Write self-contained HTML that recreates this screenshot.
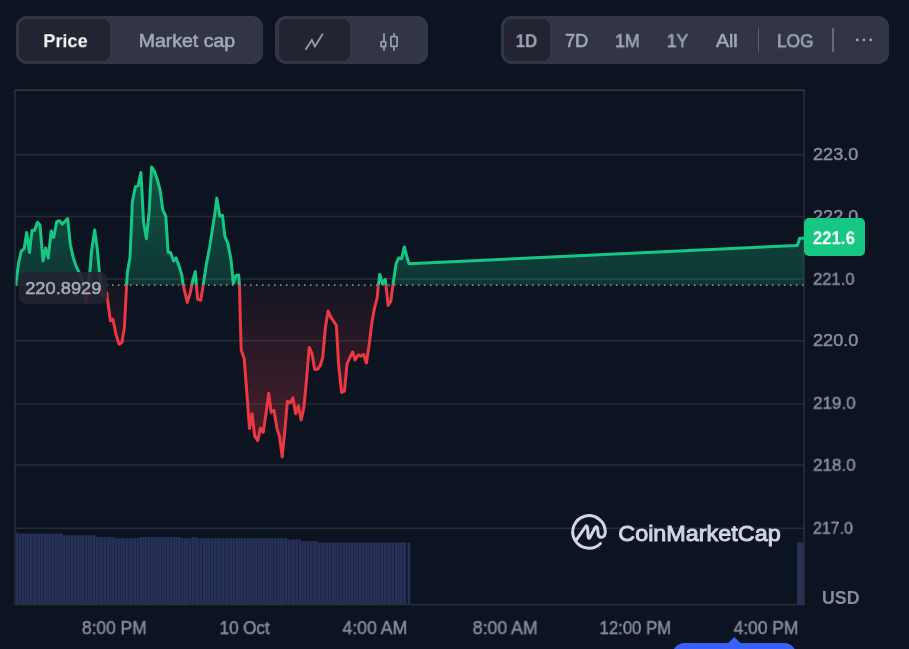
<!DOCTYPE html>
<html lang="en"><head><meta charset="utf-8"><title>Price chart</title>
<style>
html,body{margin:0;padding:0;background:#0d1421;}
body{width:909px;height:649px;overflow:hidden;position:relative;font-family:"Liberation Sans",sans-serif;}
#chart{position:absolute;left:0;top:0;}
.t{position:absolute;left:0;top:0;white-space:nowrap;margin:0;padding:0;transform-origin:0 0;will-change:transform;}
.grp{position:absolute;top:16px;height:48px;border-radius:10.7px;background:#323546;}
.act{position:absolute;top:19px;height:42px;border-radius:8px;background:#222531;}
.sep{position:absolute;top:28px;height:24px;width:1px;background:#5b5f73;}
.tag{position:absolute;border-radius:5px;}
</style></head><body>
<div class="grp" style="left:16px;width:247px"></div>
<div class="act" style="left:19.4px;width:91px"></div>
<div class="grp" style="left:275px;width:153px"></div>
<div class="act" style="left:278.6px;width:71.8px"></div>
<div class="grp" style="left:501px;width:388px"></div>
<div class="act" style="left:504.2px;width:45.4px"></div>
<div class="sep" style="left:758px"></div>
<div class="sep" style="left:832.2px;width:1.5px;background:#666a7e"></div>
<svg id="chart" width="909" height="649" viewBox="0 0 909 649">
<defs>
<linearGradient id="gg" x1="0" y1="90.1" x2="0" y2="285.0" gradientUnits="userSpaceOnUse">
<stop offset="0" stop-color="#16c784" stop-opacity="0.46"/><stop offset="1" stop-color="#16c784" stop-opacity="0.19"/></linearGradient>
<linearGradient id="rg" x1="0" y1="285.0" x2="0" y2="604.6" gradientUnits="userSpaceOnUse">
<stop offset="0" stop-color="#ea3943" stop-opacity="0.035"/><stop offset="1" stop-color="#ea3943" stop-opacity="0.52"/></linearGradient>
<clipPath id="up"><rect x="15.6" y="0" width="788.4" height="285.0"/></clipPath>
<clipPath id="dn"><rect x="15.6" y="285.0" width="788.4" height="400"/></clipPath>
</defs>
<g stroke="#272b38" stroke-width="1.5">
<line x1="15" x2="804" y1="154.7" y2="154.7"/><line x1="15" x2="804" y1="216.4" y2="216.4"/><line x1="15" x2="804" y1="279.1" y2="279.1"/><line x1="15" x2="804" y1="340.7" y2="340.7"/><line x1="15" x2="804" y1="404.0" y2="404.0"/><line x1="15" x2="804" y1="465.1" y2="465.1"/><line x1="15" x2="804" y1="528.3" y2="528.3"/>
</g>
<line x1="14.6" x2="804.6" y1="90.1" y2="90.1" stroke="#41444f" stroke-width="1.2"/>
<g fill="#273056"><rect x="16.00" y="533.6" width="2.6" height="70.6"/><rect x="18.74" y="533.6" width="2.6" height="70.6"/><rect x="21.49" y="533.6" width="2.6" height="70.6"/><rect x="24.23" y="533.6" width="2.6" height="70.6"/><rect x="26.97" y="533.6" width="2.6" height="70.6"/><rect x="29.71" y="533.6" width="2.6" height="70.6"/><rect x="32.46" y="533.6" width="2.6" height="70.6"/><rect x="35.20" y="533.6" width="2.6" height="70.6"/><rect x="37.94" y="533.6" width="2.6" height="70.6"/><rect x="40.69" y="533.6" width="2.6" height="70.6"/><rect x="43.43" y="533.6" width="2.6" height="70.6"/><rect x="46.17" y="533.6" width="2.6" height="70.6"/><rect x="48.92" y="533.6" width="2.6" height="70.6"/><rect x="51.66" y="533.6" width="2.6" height="70.6"/><rect x="54.40" y="533.6" width="2.6" height="70.6"/><rect x="57.15" y="533.6" width="2.6" height="70.6"/><rect x="59.89" y="533.6" width="2.6" height="70.6"/><rect x="62.63" y="535.3" width="2.6" height="68.9"/><rect x="65.37" y="535.3" width="2.6" height="68.9"/><rect x="68.12" y="535.3" width="2.6" height="68.9"/><rect x="70.86" y="535.3" width="2.6" height="68.9"/><rect x="73.60" y="535.3" width="2.6" height="68.9"/><rect x="76.35" y="535.3" width="2.6" height="68.9"/><rect x="79.09" y="535.3" width="2.6" height="68.9"/><rect x="81.83" y="535.3" width="2.6" height="68.9"/><rect x="84.57" y="535.3" width="2.6" height="68.9"/><rect x="87.32" y="535.3" width="2.6" height="68.9"/><rect x="90.06" y="535.3" width="2.6" height="68.9"/><rect x="92.80" y="535.3" width="2.6" height="68.9"/><rect x="95.55" y="536.9" width="2.6" height="67.3"/><rect x="98.29" y="536.9" width="2.6" height="67.3"/><rect x="101.03" y="536.9" width="2.6" height="67.3"/><rect x="103.78" y="536.9" width="2.6" height="67.3"/><rect x="106.52" y="536.9" width="2.6" height="67.3"/><rect x="109.26" y="536.9" width="2.6" height="67.3"/><rect x="112.00" y="536.9" width="2.6" height="67.3"/><rect x="114.75" y="538.2" width="2.6" height="66.0"/><rect x="117.49" y="538.2" width="2.6" height="66.0"/><rect x="120.23" y="538.2" width="2.6" height="66.0"/><rect x="122.98" y="538.2" width="2.6" height="66.0"/><rect x="125.72" y="538.2" width="2.6" height="66.0"/><rect x="128.46" y="538.2" width="2.6" height="66.0"/><rect x="131.21" y="538.2" width="2.6" height="66.0"/><rect x="133.95" y="538.2" width="2.6" height="66.0"/><rect x="136.69" y="538.2" width="2.6" height="66.0"/><rect x="139.43" y="536.9" width="2.6" height="67.3"/><rect x="142.18" y="536.9" width="2.6" height="67.3"/><rect x="144.92" y="536.9" width="2.6" height="67.3"/><rect x="147.66" y="536.9" width="2.6" height="67.3"/><rect x="150.41" y="536.9" width="2.6" height="67.3"/><rect x="153.15" y="536.9" width="2.6" height="67.3"/><rect x="155.89" y="536.9" width="2.6" height="67.3"/><rect x="158.64" y="536.9" width="2.6" height="67.3"/><rect x="161.38" y="536.9" width="2.6" height="67.3"/><rect x="164.12" y="536.9" width="2.6" height="67.3"/><rect x="166.86" y="536.9" width="2.6" height="67.3"/><rect x="169.61" y="536.9" width="2.6" height="67.3"/><rect x="172.35" y="536.9" width="2.6" height="67.3"/><rect x="175.09" y="536.9" width="2.6" height="67.3"/><rect x="177.84" y="536.9" width="2.6" height="67.3"/><rect x="180.58" y="538.2" width="2.6" height="66.0"/><rect x="183.32" y="538.2" width="2.6" height="66.0"/><rect x="186.07" y="538.2" width="2.6" height="66.0"/><rect x="188.81" y="538.2" width="2.6" height="66.0"/><rect x="191.55" y="536.9" width="2.6" height="67.3"/><rect x="194.29" y="536.9" width="2.6" height="67.3"/><rect x="197.04" y="538.3" width="2.6" height="65.9"/><rect x="199.78" y="538.3" width="2.6" height="65.9"/><rect x="202.52" y="538.3" width="2.6" height="65.9"/><rect x="205.27" y="538.3" width="2.6" height="65.9"/><rect x="208.01" y="538.3" width="2.6" height="65.9"/><rect x="210.75" y="538.3" width="2.6" height="65.9"/><rect x="213.50" y="538.3" width="2.6" height="65.9"/><rect x="216.24" y="538.3" width="2.6" height="65.9"/><rect x="218.98" y="538.3" width="2.6" height="65.9"/><rect x="221.72" y="538.3" width="2.6" height="65.9"/><rect x="224.47" y="538.3" width="2.6" height="65.9"/><rect x="227.21" y="538.3" width="2.6" height="65.9"/><rect x="229.95" y="538.3" width="2.6" height="65.9"/><rect x="232.70" y="538.3" width="2.6" height="65.9"/><rect x="235.44" y="538.3" width="2.6" height="65.9"/><rect x="238.18" y="538.3" width="2.6" height="65.9"/><rect x="240.93" y="538.3" width="2.6" height="65.9"/><rect x="243.67" y="538.3" width="2.6" height="65.9"/><rect x="246.41" y="538.3" width="2.6" height="65.9"/><rect x="249.15" y="538.3" width="2.6" height="65.9"/><rect x="251.90" y="538.3" width="2.6" height="65.9"/><rect x="254.64" y="538.3" width="2.6" height="65.9"/><rect x="257.38" y="538.3" width="2.6" height="65.9"/><rect x="260.13" y="538.3" width="2.6" height="65.9"/><rect x="262.87" y="538.3" width="2.6" height="65.9"/><rect x="265.61" y="538.3" width="2.6" height="65.9"/><rect x="268.36" y="538.3" width="2.6" height="65.9"/><rect x="271.10" y="538.3" width="2.6" height="65.9"/><rect x="273.84" y="538.3" width="2.6" height="65.9"/><rect x="276.58" y="538.3" width="2.6" height="65.9"/><rect x="279.33" y="538.3" width="2.6" height="65.9"/><rect x="282.07" y="538.3" width="2.6" height="65.9"/><rect x="284.81" y="538.3" width="2.6" height="65.9"/><rect x="287.56" y="539.6" width="2.6" height="64.6"/><rect x="290.30" y="539.6" width="2.6" height="64.6"/><rect x="293.04" y="539.6" width="2.6" height="64.6"/><rect x="295.79" y="539.6" width="2.6" height="64.6"/><rect x="298.53" y="539.6" width="2.6" height="64.6"/><rect x="301.27" y="541.1" width="2.6" height="63.1"/><rect x="304.01" y="541.1" width="2.6" height="63.1"/><rect x="306.76" y="541.1" width="2.6" height="63.1"/><rect x="309.50" y="541.1" width="2.6" height="63.1"/><rect x="312.24" y="541.1" width="2.6" height="63.1"/><rect x="314.99" y="541.1" width="2.6" height="63.1"/><rect x="317.73" y="542.6" width="2.6" height="61.6"/><rect x="320.47" y="542.6" width="2.6" height="61.6"/><rect x="323.22" y="542.6" width="2.6" height="61.6"/><rect x="325.96" y="542.6" width="2.6" height="61.6"/><rect x="328.70" y="542.6" width="2.6" height="61.6"/><rect x="331.44" y="542.6" width="2.6" height="61.6"/><rect x="334.19" y="542.6" width="2.6" height="61.6"/><rect x="336.93" y="542.6" width="2.6" height="61.6"/><rect x="339.67" y="542.6" width="2.6" height="61.6"/><rect x="342.42" y="542.6" width="2.6" height="61.6"/><rect x="345.16" y="542.6" width="2.6" height="61.6"/><rect x="347.90" y="542.6" width="2.6" height="61.6"/><rect x="350.65" y="542.6" width="2.6" height="61.6"/><rect x="353.39" y="542.6" width="2.6" height="61.6"/><rect x="356.13" y="542.6" width="2.6" height="61.6"/><rect x="358.87" y="542.6" width="2.6" height="61.6"/><rect x="361.62" y="542.6" width="2.6" height="61.6"/><rect x="364.36" y="542.6" width="2.6" height="61.6"/><rect x="367.10" y="542.6" width="2.6" height="61.6"/><rect x="369.85" y="542.6" width="2.6" height="61.6"/><rect x="372.59" y="542.6" width="2.6" height="61.6"/><rect x="375.33" y="542.6" width="2.6" height="61.6"/><rect x="378.08" y="542.6" width="2.6" height="61.6"/><rect x="380.82" y="542.6" width="2.6" height="61.6"/><rect x="383.56" y="542.6" width="2.6" height="61.6"/><rect x="386.30" y="542.6" width="2.6" height="61.6"/><rect x="389.05" y="542.6" width="2.6" height="61.6"/><rect x="391.79" y="542.6" width="2.6" height="61.6"/><rect x="394.53" y="542.6" width="2.6" height="61.6"/><rect x="397.28" y="542.6" width="2.6" height="61.6"/><rect x="400.02" y="542.6" width="2.6" height="61.6"/><rect x="402.76" y="542.6" width="2.6" height="61.6"/><rect x="16" y="532.2" width="1.0" height="2"/><rect x="403.6" y="542.5" width="2.5" height="61.7"/><rect x="407.5" y="542.5" width="2.7" height="61.7"/><rect x="797" y="542.5" width="6.8" height="61.7"/></g>
<g stroke="#2b2f3c" stroke-width="1.5">
<line x1="15" x2="804.6" y1="604.6" y2="604.6"/>
<line x1="15.1" x2="15.1" y1="90" y2="605"/>
<line x1="804.1" x2="804.1" y1="90" y2="605"/>
</g>
<g clip-path="url(#up)"><path d="M15.3,285.0 L15.3,285.5 L16.2,281.1 L18.7,262.4 L21.2,251.1 L24.2,248.6 L26.7,232.4 L29.5,252.4 L32.0,230.4 L34.5,230.4 L37.5,222.4 L40.0,225.0 L43.0,261.0 L45.7,248.0 L48.2,258.0 L51.2,231.0 L53.7,237.4 L56.7,221.7 L59.5,220.7 L62.0,224.2 L64.8,221.5 L67.7,218.7 L70.4,245.0 L73.2,257.4 L76.2,266.6 L78.7,271.6 L81.4,277.0 L83.6,290.0 L86.2,302.5 L88.2,288.0 L90.0,270.0 L91.7,250.0 L94.7,230.0 L97.4,250.0 L99.4,272.4 L100.6,285.0 L102.6,296.0 L104.6,297.0 L106.7,292.5 L107.4,298.7 L110.4,320.7 L112.9,319.2 L116.1,334.9 L119.1,344.2 L121.9,342.4 L124.4,327.4 L126.6,285.0 L127.4,272.4 L130.0,257.4 L132.4,201.2 L135.4,186.7 L138.1,185.7 L140.9,172.5 L143.6,222.4 L146.4,238.7 L149.1,212.4 L151.6,167.0 L154.4,171.2 L157.4,180.0 L160.1,190.0 L162.8,210.0 L165.8,216.2 L168.1,252.4 L170.6,252.4 L173.6,261.1 L176.1,257.9 L179.1,266.1 L181.8,274.9 L183.1,284.9 L187.3,302.3 L190.3,292.4 L192.3,282.4 L195.3,271.6 L197.6,299.4 L200.8,300.3 L203.6,282.4 L206.3,264.9 L209.8,246.2 L212.3,229.9 L214.8,213.7 L216.8,198.2 L219.8,216.2 L222.5,215.4 L224.8,236.2 L228.0,243.7 L231.0,259.9 L233.3,283.2 L236.0,275.4 L238.7,275.0 L239.5,286.2 L240.3,320.0 L241.2,350.0 L244.2,358.7 L247.0,394.9 L249.5,428.6 L252.0,413.7 L254.7,436.1 L257.7,440.6 L260.5,428.1 L263.2,432.4 L266.0,413.7 L268.7,393.2 L271.2,412.4 L274.0,410.4 L277.0,428.6 L279.4,436.1 L282.2,456.9 L284.9,429.9 L287.4,401.2 L290.2,402.9 L292.9,397.9 L295.7,413.7 L298.4,405.7 L301.2,419.9 L303.9,407.4 L306.7,377.4 L309.2,347.5 L311.9,353.2 L314.7,369.2 L317.4,369.2 L320.2,365.7 L322.7,357.5 L325.4,327.5 L328.1,311.1 L330.9,317.4 L333.6,321.2 L336.4,325.5 L338.6,365.0 L341.6,392.4 L344.4,391.2 L347.1,363.7 L349.9,357.5 L352.6,352.0 L355.1,360.0 L358.1,355.0 L360.9,356.2 L363.6,354.5 L366.4,363.0 L369.1,345.0 L371.9,322.5 L374.4,308.6 L377.3,297.4 L378.3,284.9 L379.8,274.4 L382.6,283.7 L385.3,279.4 L386.1,286.2 L388.1,305.4 L390.8,301.1 L392.8,286.2 L393.6,279.9 L396.1,263.7 L398.8,257.9 L401.6,258.7 L404.3,247.0 L408.8,263.7 L796.5,245.5 L797.5,245.1 L799.7,238.3 L804.5,238.3 L804.5,285.0 Z" fill="url(#gg)"/></g>
<g clip-path="url(#dn)"><path d="M15.3,285.0 L15.3,285.5 L16.2,281.1 L18.7,262.4 L21.2,251.1 L24.2,248.6 L26.7,232.4 L29.5,252.4 L32.0,230.4 L34.5,230.4 L37.5,222.4 L40.0,225.0 L43.0,261.0 L45.7,248.0 L48.2,258.0 L51.2,231.0 L53.7,237.4 L56.7,221.7 L59.5,220.7 L62.0,224.2 L64.8,221.5 L67.7,218.7 L70.4,245.0 L73.2,257.4 L76.2,266.6 L78.7,271.6 L81.4,277.0 L83.6,290.0 L86.2,302.5 L88.2,288.0 L90.0,270.0 L91.7,250.0 L94.7,230.0 L97.4,250.0 L99.4,272.4 L100.6,285.0 L102.6,296.0 L104.6,297.0 L106.7,292.5 L107.4,298.7 L110.4,320.7 L112.9,319.2 L116.1,334.9 L119.1,344.2 L121.9,342.4 L124.4,327.4 L126.6,285.0 L127.4,272.4 L130.0,257.4 L132.4,201.2 L135.4,186.7 L138.1,185.7 L140.9,172.5 L143.6,222.4 L146.4,238.7 L149.1,212.4 L151.6,167.0 L154.4,171.2 L157.4,180.0 L160.1,190.0 L162.8,210.0 L165.8,216.2 L168.1,252.4 L170.6,252.4 L173.6,261.1 L176.1,257.9 L179.1,266.1 L181.8,274.9 L183.1,284.9 L187.3,302.3 L190.3,292.4 L192.3,282.4 L195.3,271.6 L197.6,299.4 L200.8,300.3 L203.6,282.4 L206.3,264.9 L209.8,246.2 L212.3,229.9 L214.8,213.7 L216.8,198.2 L219.8,216.2 L222.5,215.4 L224.8,236.2 L228.0,243.7 L231.0,259.9 L233.3,283.2 L236.0,275.4 L238.7,275.0 L239.5,286.2 L240.3,320.0 L241.2,350.0 L244.2,358.7 L247.0,394.9 L249.5,428.6 L252.0,413.7 L254.7,436.1 L257.7,440.6 L260.5,428.1 L263.2,432.4 L266.0,413.7 L268.7,393.2 L271.2,412.4 L274.0,410.4 L277.0,428.6 L279.4,436.1 L282.2,456.9 L284.9,429.9 L287.4,401.2 L290.2,402.9 L292.9,397.9 L295.7,413.7 L298.4,405.7 L301.2,419.9 L303.9,407.4 L306.7,377.4 L309.2,347.5 L311.9,353.2 L314.7,369.2 L317.4,369.2 L320.2,365.7 L322.7,357.5 L325.4,327.5 L328.1,311.1 L330.9,317.4 L333.6,321.2 L336.4,325.5 L338.6,365.0 L341.6,392.4 L344.4,391.2 L347.1,363.7 L349.9,357.5 L352.6,352.0 L355.1,360.0 L358.1,355.0 L360.9,356.2 L363.6,354.5 L366.4,363.0 L369.1,345.0 L371.9,322.5 L374.4,308.6 L377.3,297.4 L378.3,284.9 L379.8,274.4 L382.6,283.7 L385.3,279.4 L386.1,286.2 L388.1,305.4 L390.8,301.1 L392.8,286.2 L393.6,279.9 L396.1,263.7 L398.8,257.9 L401.6,258.7 L404.3,247.0 L408.8,263.7 L796.5,245.5 L797.5,245.1 L799.7,238.3 L804.5,238.3 L804.5,285.0 Z" fill="url(#rg)"/></g>
<line x1="16" x2="804" y1="285.2" y2="285.2" stroke="#b3b6be" stroke-width="1.3" stroke-dasharray="1.5 4.5"/>
<g fill="none" stroke-width="3" stroke-linejoin="round" stroke-linecap="butt">
<polyline clip-path="url(#up)" points="15.3,285.5 16.2,281.1 18.7,262.4 21.2,251.1 24.2,248.6 26.7,232.4 29.5,252.4 32.0,230.4 34.5,230.4 37.5,222.4 40.0,225.0 43.0,261.0 45.7,248.0 48.2,258.0 51.2,231.0 53.7,237.4 56.7,221.7 59.5,220.7 62.0,224.2 64.8,221.5 67.7,218.7 70.4,245.0 73.2,257.4 76.2,266.6 78.7,271.6 81.4,277.0 83.6,290.0 86.2,302.5 88.2,288.0 90.0,270.0 91.7,250.0 94.7,230.0 97.4,250.0 99.4,272.4 100.6,285.0 102.6,296.0 104.6,297.0 106.7,292.5 107.4,298.7 110.4,320.7 112.9,319.2 116.1,334.9 119.1,344.2 121.9,342.4 124.4,327.4 126.6,285.0 127.4,272.4 130.0,257.4 132.4,201.2 135.4,186.7 138.1,185.7 140.9,172.5 143.6,222.4 146.4,238.7 149.1,212.4 151.6,167.0 154.4,171.2 157.4,180.0 160.1,190.0 162.8,210.0 165.8,216.2 168.1,252.4 170.6,252.4 173.6,261.1 176.1,257.9 179.1,266.1 181.8,274.9 183.1,284.9 187.3,302.3 190.3,292.4 192.3,282.4 195.3,271.6 197.6,299.4 200.8,300.3 203.6,282.4 206.3,264.9 209.8,246.2 212.3,229.9 214.8,213.7 216.8,198.2 219.8,216.2 222.5,215.4 224.8,236.2 228.0,243.7 231.0,259.9 233.3,283.2 236.0,275.4 238.7,275.0 239.5,286.2 240.3,320.0 241.2,350.0 244.2,358.7 247.0,394.9 249.5,428.6 252.0,413.7 254.7,436.1 257.7,440.6 260.5,428.1 263.2,432.4 266.0,413.7 268.7,393.2 271.2,412.4 274.0,410.4 277.0,428.6 279.4,436.1 282.2,456.9 284.9,429.9 287.4,401.2 290.2,402.9 292.9,397.9 295.7,413.7 298.4,405.7 301.2,419.9 303.9,407.4 306.7,377.4 309.2,347.5 311.9,353.2 314.7,369.2 317.4,369.2 320.2,365.7 322.7,357.5 325.4,327.5 328.1,311.1 330.9,317.4 333.6,321.2 336.4,325.5 338.6,365.0 341.6,392.4 344.4,391.2 347.1,363.7 349.9,357.5 352.6,352.0 355.1,360.0 358.1,355.0 360.9,356.2 363.6,354.5 366.4,363.0 369.1,345.0 371.9,322.5 374.4,308.6 377.3,297.4 378.3,284.9 379.8,274.4 382.6,283.7 385.3,279.4 386.1,286.2 388.1,305.4 390.8,301.1 392.8,286.2 393.6,279.9 396.1,263.7 398.8,257.9 401.6,258.7 404.3,247.0 408.8,263.7 796.5,245.5 797.5,245.1 799.7,238.3 804.5,238.3" stroke="#16c784"/>
<polyline clip-path="url(#dn)" points="15.3,285.5 16.2,281.1 18.7,262.4 21.2,251.1 24.2,248.6 26.7,232.4 29.5,252.4 32.0,230.4 34.5,230.4 37.5,222.4 40.0,225.0 43.0,261.0 45.7,248.0 48.2,258.0 51.2,231.0 53.7,237.4 56.7,221.7 59.5,220.7 62.0,224.2 64.8,221.5 67.7,218.7 70.4,245.0 73.2,257.4 76.2,266.6 78.7,271.6 81.4,277.0 83.6,290.0 86.2,302.5 88.2,288.0 90.0,270.0 91.7,250.0 94.7,230.0 97.4,250.0 99.4,272.4 100.6,285.0 102.6,296.0 104.6,297.0 106.7,292.5 107.4,298.7 110.4,320.7 112.9,319.2 116.1,334.9 119.1,344.2 121.9,342.4 124.4,327.4 126.6,285.0 127.4,272.4 130.0,257.4 132.4,201.2 135.4,186.7 138.1,185.7 140.9,172.5 143.6,222.4 146.4,238.7 149.1,212.4 151.6,167.0 154.4,171.2 157.4,180.0 160.1,190.0 162.8,210.0 165.8,216.2 168.1,252.4 170.6,252.4 173.6,261.1 176.1,257.9 179.1,266.1 181.8,274.9 183.1,284.9 187.3,302.3 190.3,292.4 192.3,282.4 195.3,271.6 197.6,299.4 200.8,300.3 203.6,282.4 206.3,264.9 209.8,246.2 212.3,229.9 214.8,213.7 216.8,198.2 219.8,216.2 222.5,215.4 224.8,236.2 228.0,243.7 231.0,259.9 233.3,283.2 236.0,275.4 238.7,275.0 239.5,286.2 240.3,320.0 241.2,350.0 244.2,358.7 247.0,394.9 249.5,428.6 252.0,413.7 254.7,436.1 257.7,440.6 260.5,428.1 263.2,432.4 266.0,413.7 268.7,393.2 271.2,412.4 274.0,410.4 277.0,428.6 279.4,436.1 282.2,456.9 284.9,429.9 287.4,401.2 290.2,402.9 292.9,397.9 295.7,413.7 298.4,405.7 301.2,419.9 303.9,407.4 306.7,377.4 309.2,347.5 311.9,353.2 314.7,369.2 317.4,369.2 320.2,365.7 322.7,357.5 325.4,327.5 328.1,311.1 330.9,317.4 333.6,321.2 336.4,325.5 338.6,365.0 341.6,392.4 344.4,391.2 347.1,363.7 349.9,357.5 352.6,352.0 355.1,360.0 358.1,355.0 360.9,356.2 363.6,354.5 366.4,363.0 369.1,345.0 371.9,322.5 374.4,308.6 377.3,297.4 378.3,284.9 379.8,274.4 382.6,283.7 385.3,279.4 386.1,286.2 388.1,305.4 390.8,301.1 392.8,286.2 393.6,279.9 396.1,263.7 398.8,257.9 401.6,258.7 404.3,247.0 408.8,263.7 796.5,245.5 797.5,245.1 799.7,238.3 804.5,238.3" stroke="#ea3943"/>
</g>
<!-- watermark logo -->
<g fill="none" stroke="#cfd6e4" stroke-width="3.0" stroke-linecap="round" stroke-linejoin="round">
<path d="M 600.5 543.5 A 16.3 16.3 0 1 1 605.3 531.8 C 605.4 535.2 603.6 537.3 601.3 537.3 C 599.3 537.3 598.2 535.8 598.1 533.6 L 597.7 529.4 C 597.5 526.2 595.9 526.0 594.9 528.0 L 590.0 537.4 C 589.2 538.8 588.3 538.6 588.2 537.0 L 587.6 528.8 C 587.4 525.4 586.4 525.2 585.3 527.0 L 576.4 539.8"/>
</g>
<!-- blue tooltip at bottom -->
<path d="M672.4,660 V655 a12,12 0 0 1 12,-12 H728.2 L734.3,637.1 L740.4,643 H784.2 a12,12 0 0 1 12,12 V660 Z" fill="#3861fb"/>
<!-- toolbar icons -->
<g fill="none" stroke="#969bb0" stroke-width="1.8" stroke-linecap="butt" stroke-linejoin="miter">
<polyline points="305.5,49.8 311.9,40.1 314.9,46.4 322.8,33.8"/>
<line x1="384" y1="33.3" x2="384" y2="41"/><line x1="384" y1="47" x2="384" y2="50.7"/>
<rect x="381.0" y="41.7" width="4.7" height="4.8" rx="0.6"/>
<line x1="394" y1="33.3" x2="394" y2="36.3"/><line x1="394" y1="46.2" x2="394" y2="50.7"/>
<rect x="390.9" y="36.6" width="6.2" height="9.7" rx="0.6"/>
</g>
<g fill="#a1a7bb"><circle cx="857.2" cy="39.9" r="1.3"/><circle cx="863.9" cy="39.9" r="1.3"/><circle cx="870.7" cy="39.9" r="1.3"/></g>
</svg>
<div class="t" style="font-size:17.2px;line-height:17.2px;font-weight:normal;transform:translate(813.10px,145.60px) scaleX(1.0480);color:#858ca2;-webkit-text-stroke:0.5px #858ca2;">223.0</div>
<div class="t" style="font-size:17.2px;line-height:17.2px;font-weight:normal;transform:translate(813.10px,208.20px) scaleX(1.0480);color:#858ca2;-webkit-text-stroke:0.5px #858ca2;">222.0</div>
<div class="t" style="font-size:17.2px;line-height:17.2px;font-weight:normal;transform:translate(813.10px,270.80px) scaleX(0.9620);color:#858ca2;-webkit-text-stroke:0.5px #858ca2;">221.0</div>
<div class="t" style="font-size:17.2px;line-height:17.2px;font-weight:normal;transform:translate(813.10px,331.80px) scaleX(1.0480);color:#858ca2;-webkit-text-stroke:0.5px #858ca2;">220.0</div>
<div class="t" style="font-size:17.2px;line-height:17.2px;font-weight:normal;transform:translate(813.10px,394.80px) scaleX(0.9876);color:#858ca2;-webkit-text-stroke:0.5px #858ca2;">219.0</div>
<div class="t" style="font-size:17.2px;line-height:17.2px;font-weight:normal;transform:translate(813.10px,456.80px) scaleX(0.9876);color:#858ca2;-webkit-text-stroke:0.5px #858ca2;">218.0</div>
<div class="t" style="font-size:17.2px;line-height:17.2px;font-weight:normal;transform:translate(813.10px,519.80px) scaleX(0.9248);color:#858ca2;-webkit-text-stroke:0.5px #858ca2;">217.0</div>
<div class="tag" style="left:19.2px;top:271.7px;width:87.5px;height:32.5px;border-radius:7px;background:rgba(34,37,49,0.9)"></div>
<div class="tag" style="left:803.5px;top:218.4px;width:61.6px;height:37.6px;background:#16c784"></div>
<div class="t" style="font-size:17.2px;line-height:17.2px;font-weight:normal;transform:translate(25.20px,279.70px) scaleX(1.0622);color:#a4a9bd;-webkit-text-stroke:0.55px #a4a9bd;">220.8929</div>
<div class="t" style="font-size:18.2px;line-height:18.2px;font-weight:bold;transform:translate(812.90px,229.20px) scaleX(0.9223);color:#ffffff;">221.6</div>
<div class="t" style="font-size:18.2px;line-height:18.2px;font-weight:bold;transform:translate(43.30px,32.20px) scaleX(0.9951);color:#ffffff;">Price</div>
<div class="t" style="font-size:18.2px;line-height:18.2px;font-weight:normal;transform:translate(138.70px,32.20px) scaleX(1.0720);color:#a1a7bb;-webkit-text-stroke:0.55px #a1a7bb;">Market cap</div>
<div class="t" style="font-size:18.2px;line-height:18.2px;font-weight:bold;transform:translate(515.60px,32.20px) scaleX(0.9372);color:#a1a7bb;">1D</div>
<div class="t" style="font-size:18.2px;line-height:18.2px;font-weight:normal;transform:translate(564.90px,32.20px) scaleX(1.0060);color:#a1a7bb;-webkit-text-stroke:0.55px #a1a7bb;">7D</div>
<div class="t" style="font-size:18.2px;line-height:18.2px;font-weight:normal;transform:translate(615.00px,32.20px) scaleX(0.9850);color:#a1a7bb;-webkit-text-stroke:0.55px #a1a7bb;">1M</div>
<div class="t" style="font-size:18.2px;line-height:18.2px;font-weight:normal;transform:translate(666.80px,32.20px) scaleX(0.9659);color:#a1a7bb;-webkit-text-stroke:0.55px #a1a7bb;">1Y</div>
<div class="t" style="font-size:18.2px;line-height:18.2px;font-weight:normal;transform:translate(715.90px,32.20px) scaleX(1.0732);color:#a1a7bb;-webkit-text-stroke:0.55px #a1a7bb;">All</div>
<div class="t" style="font-size:18.2px;line-height:18.2px;font-weight:normal;transform:translate(777.00px,32.20px) scaleX(0.9522);color:#a1a7bb;-webkit-text-stroke:0.55px #a1a7bb;">LOG</div>
<div class="t" style="font-size:17.6px;line-height:17.6px;font-weight:bold;transform:translate(821.90px,590.40px) scaleX(1.0120);color:#858ca2;">USD</div>
<div class="t" style="font-size:17.8px;line-height:17.8px;font-weight:normal;transform:translate(81.95px,620.10px) scaleX(0.9761);color:#858ca2;-webkit-text-stroke:0.5px #858ca2;">8:00 PM</div>
<div class="t" style="font-size:17.8px;line-height:17.8px;font-weight:normal;transform:translate(219.60px,620.10px) scaleX(0.9535);color:#858ca2;-webkit-text-stroke:0.5px #858ca2;">10 Oct</div>
<div class="t" style="font-size:17.8px;line-height:17.8px;font-weight:normal;transform:translate(342.45px,620.10px) scaleX(0.9937);color:#858ca2;-webkit-text-stroke:0.5px #858ca2;">4:00 AM</div>
<div class="t" style="font-size:17.8px;line-height:17.8px;font-weight:normal;transform:translate(472.70px,620.10px) scaleX(0.9953);color:#858ca2;-webkit-text-stroke:0.5px #858ca2;">8:00 AM</div>
<div class="t" style="font-size:17.8px;line-height:17.8px;font-weight:normal;transform:translate(599.55px,620.10px) scaleX(0.9411);color:#858ca2;-webkit-text-stroke:0.5px #858ca2;">12:00 PM</div>
<div class="t" style="font-size:17.8px;line-height:17.8px;font-weight:normal;transform:translate(733.65px,620.10px) scaleX(0.9761);color:#858ca2;-webkit-text-stroke:0.5px #858ca2;">4:00 PM</div>
<div class="t" style="font-size:22.8px;line-height:22.8px;font-weight:normal;transform:translate(618.30px,521.80px) scaleX(1.0253);color:#cfd6e4;-webkit-text-stroke:0.95px #cfd6e4;">CoinMarketCap</div>
</body></html>
